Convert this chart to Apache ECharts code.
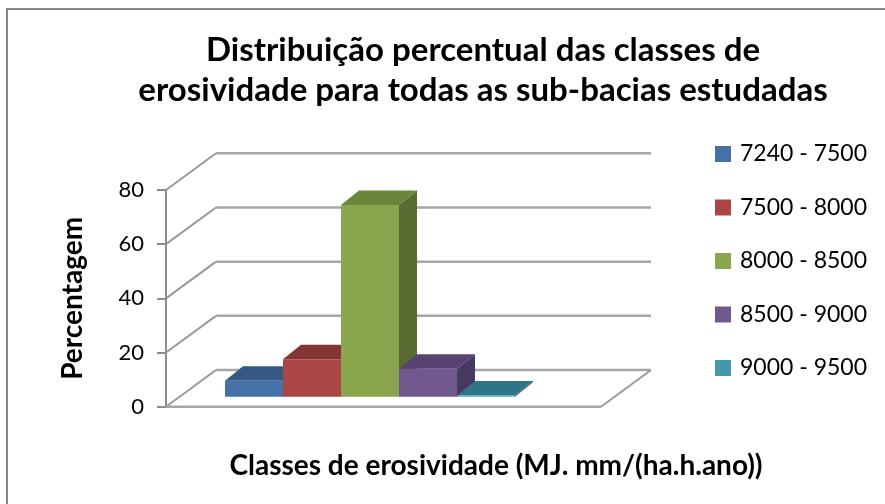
<!DOCTYPE html>
<html>
<head>
<meta charset="utf-8">
<script src="https://cdn.jsdelivr.net/npm/echarts@6/dist/echarts.min.js"></script>
<style>
  html, body { margin: 0; padding: 0; background: #fff; }
  #chart { width: 885px; height: 504px; }
</style>
</head>
<body>
<div id="chart"></div>
<script>
// Erosivity classes (MJ.mm/(ha.h.ano)) and share of area (%)
const classes = ['7240 - 7500', '7500 - 8000', '8000 - 8500', '8500 - 9000', '9000 - 9500'];
const percentages = [5.9, 13.8, 70.8, 10.3, 0.4];
const yTicks = [0, 20, 40, 60, 80];

// Face colours per class: front, top, side
const frontColors = ['#4572a7', '#aa4643', '#89a54e', '#71588f', '#4bacc6'];
const topColors = ['#345a84', '#843533', '#6b853b', '#574272', '#2e7585'];
const sideColors = ['#2f507a', '#7a2f2d', '#586b31', '#483960', '#276372'];
const legendColors = ['#4471a8', '#aa4643', '#89a54e', '#71588f', '#4198af'];

// Pseudo-3D offsets (pixels): box depth and wall depth
const BAR_DX = 18, BAR_DY = -14.5;
const WALL_DX = 50, WALL_DY = -36.7;

const chart = echarts.init(document.getElementById('chart'), null, { renderer: 'canvas' });

function barRenderer(idx) {
  return function (params, api) {
    const cat = api.value(0);
    const val = api.value(1);
    const top = api.coord([cat, val]);
    const base = api.coord([cat, 0]);
    const w = api.size([1, 0])[0];
    const x0 = top[0] - w / 2, x1 = top[0] + w / 2;
    const yT = top[1], yB = base[1];
    return {
      type: 'group',
      children: [
        { type: 'polygon', shape: { points: [[x1, yT], [x1 + BAR_DX, yT + BAR_DY], [x1 + BAR_DX, yB + BAR_DY], [x1, yB]] },
          style: { fill: sideColors[idx] } },
        { type: 'polygon', shape: { points: [[x0, yT], [x1, yT], [x1 + BAR_DX, yT + BAR_DY], [x0 + BAR_DX, yT + BAR_DY]] },
          style: { fill: topColors[idx] } },
        { type: 'rect', shape: { x: x0, y: yT, width: w, height: Math.max(yB - yT, 1) },
          style: { fill: frontColors[idx] } }
      ]
    };
  };
}

function wallRenderer(params, api) {
  const v = api.value(0);
  const p = api.coord([0, v]);
  const q = api.coord([1, v]);
  const lineStyle = { stroke: '#a6a6a6', lineWidth: 2.5 };
  const diagStyle = { stroke: '#9a9a9a', lineWidth: 2 };
  const children = [
    { type: 'line', shape: { x1: p[0], y1: p[1], x2: p[0] + WALL_DX, y2: p[1] + WALL_DY }, style: diagStyle },
    { type: 'line', shape: { x1: p[0] + WALL_DX, y1: p[1] + WALL_DY, x2: q[0] + WALL_DX, y2: q[1] + WALL_DY }, style: lineStyle }
  ];
  if (v === 0) {
    children.push({ type: 'line', shape: { x1: p[0], y1: p[1], x2: q[0], y2: q[1] }, style: lineStyle });
    children.push({ type: 'line', shape: { x1: q[0], y1: q[1], x2: q[0] + WALL_DX, y2: q[1] + WALL_DY }, style: diagStyle });
  }
  return { type: 'group', children: children };
}

const barSeries = classes.map(function (name, i) {
  return {
    name: name,
    type: 'custom',
    xAxisIndex: 0,
    yAxisIndex: 0,
    z: 3 + i,
    itemStyle: { color: legendColors[i] },
    renderItem: barRenderer(i),
    data: [[i, percentages[i]]],
    encode: { x: 0, y: 1 },
    silent: true
  };
});

const option = {
  backgroundColor: '#ffffff',
  animation: false,
  title: {
    text: 'Distribuição percentual das classes de\nerosividade para todas as sub-bacias estudadas',
    left: 478,
    top: 25,
    textAlign: 'center',
    textStyle: { fontFamily: 'Lato', fontWeight: 'bold', fontSize: 33, lineHeight: 40, color: '#000' }
  },
  legend: {
    orient: 'vertical',
    left: 715,
    top: 142,
    padding: 0,
    itemWidth: 16,
    itemHeight: 16,
    itemGap: 29.5,
    icon: 'rect',
    selectedMode: false,
    data: classes,
    textStyle: { fontFamily: 'Lato', fontSize: 23, lineHeight: 24, color: '#000', padding: [0, 0, 0, 4] }
  },
  grid: [
    { left: 225, right: 370, top: 180, height: 216.7 },
    { left: 166, width: 435, top: 190, height: 216.7 }
  ],
  xAxis: [
    { type: 'category', gridIndex: 0, data: classes, show: false, boundaryGap: true },
    { type: 'value', gridIndex: 1, min: 0, max: 1, show: false }
  ],
  yAxis: [
    { type: 'value', gridIndex: 0, min: 0, max: 80, interval: 20, show: false },
    {
      type: 'value', gridIndex: 1, min: 0, max: 80, interval: 20,
      name: 'Percentagem',
      nameLocation: 'middle',
      nameRotate: 90,
      nameGap: 79,
      nameTextStyle: { fontFamily: 'Lato', fontWeight: 'bold', fontSize: 28, color: '#000' },
      axisLine: { show: true, lineStyle: { color: '#8c8c8c', width: 2 } },
      axisTick: { show: true, length: 9, lineStyle: { color: '#8c8c8c', width: 2 } },
      axisLabel: { fontFamily: 'Lato', fontSize: 22, color: '#000', margin: 22, padding: [6, 0, 0, 0] },
      splitLine: { show: false }
    }
  ],
  graphic: [
    {
      type: 'rect', z: 0, silent: true,
      shape: { x: 7, y: 9, width: 900, height: 520 },
      style: { fill: null, stroke: '#868686', lineWidth: 2 }
    },
    {
      type: 'text', silent: true,
      x: 496, y: 466,
      style: {
        text: 'Classes de erosividade (MJ. mm/(ha.h.ano))',
        x: 0, y: 0,
        fontFamily: 'Lato', fontWeight: 'bold', fontSize: 28, fill: '#000',
        textAlign: 'center', textVerticalAlign: 'middle'
      }
    }
  ],
  series: [
    {
      name: 'walls',
      type: 'custom',
      xAxisIndex: 1,
      yAxisIndex: 1,
      z: 1,
      silent: true,
      renderItem: wallRenderer,
      data: yTicks.map(function (t) { return [t]; }),
      encode: { y: 0 }
    }
  ].concat(barSeries)
};

chart.setOption(option);
</script>
</body>
</html>
